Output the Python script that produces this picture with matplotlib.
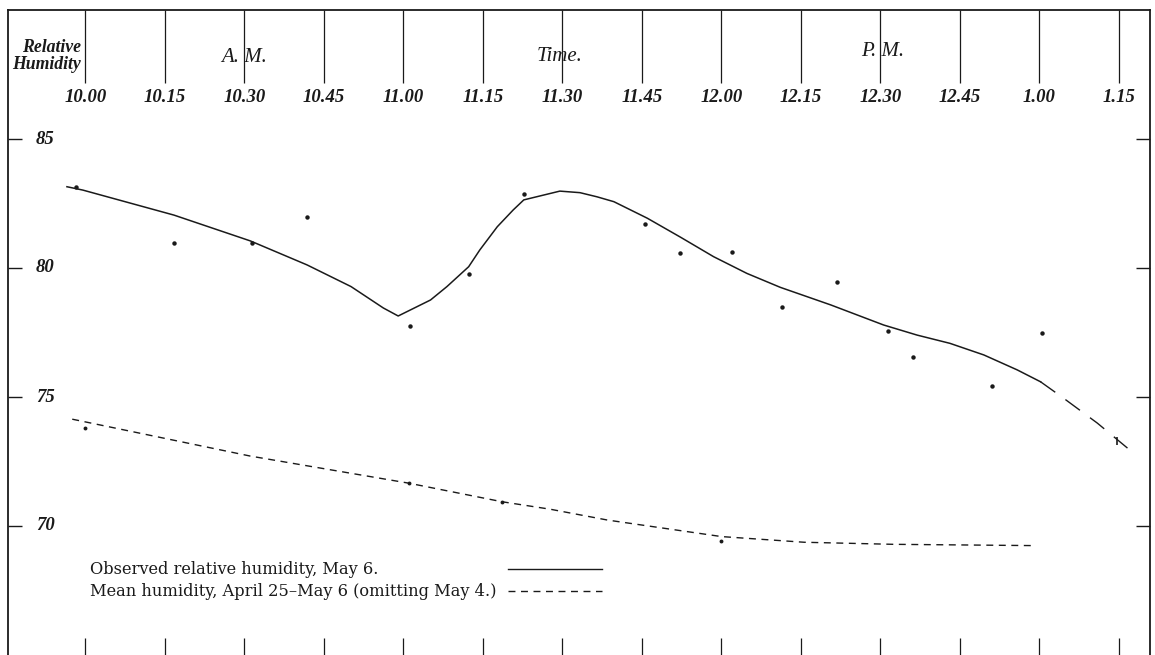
import matplotlib.pyplot as plt

# time axis in minutes after 10.00
tick_minutes = [0, 15, 30, 45, 60, 75, 90, 105, 120, 135, 150, 165, 180, 195]
tick_labels = ['10.00', '10.15', '10.30', '10.45', '11.00', '11.15', '11.30',
               '11.45', '12.00', '12.15', '12.30', '12.45', '1.00', '1.15']
humidity_ticks = [70, 75, 80, 85]

# observed relative humidity, May 6 (single readings)
obs_t = [-1.8, 16.7, 31.5, 41.8, 61.2, 72.3, 82.8, 105.5, 112.1, 122.0,
         131.5, 141.7, 151.5, 156.1, 171.1, 180.4]
obs_v = [83.13, 80.98, 80.98, 81.99, 77.76, 79.77, 82.86, 81.71, 80.59, 80.61,
         78.49, 79.47, 77.56, 76.55, 75.41, 77.48]

# hand-drawn smooth curve through the readings
curve_t = [-3.5, -0.5, 16.7, 31.1, 41.8, 50.1, 56.2, 59.0, 65.1, 68.2, 72.3,
           74.4, 77.7, 80.7, 82.7, 85.1, 89.5, 93.3, 96.5, 99.7, 106.0, 112.3,
           118.5, 124.8, 131.1, 140.6, 150.6, 156.9, 163.1, 169.5, 175.8, 180.2]
curve_v = [83.15, 83.02, 82.05, 81.05, 80.12, 79.28, 78.45, 78.14, 78.76, 79.28,
           80.05, 80.70, 81.60, 82.25, 82.64, 82.76, 82.98, 82.92, 82.76, 82.57,
           81.93, 81.19, 80.44, 79.79, 79.25, 78.57, 77.79, 77.40, 77.08, 76.63,
           76.05, 75.59]
tail_t = [180.2, 184.5, 190.9, 196.6]
tail_v = [75.59, 74.96, 73.99, 73.02]
end_mark_t = [194.6]
end_mark_v = [73.29]

# mean humidity, April 25 - May 6
mean_t = [-2.5, 31.1, 61.0, 78.6, 87.7, 98.5, 120.0, 135.6, 152.4, 179.0]
mean_v = [74.14, 72.71, 71.66, 70.94, 70.65, 70.23, 69.59, 69.37, 69.29, 69.24]
mean_pt_t = [-0.1, 61.0, 78.6, 120.0]
mean_pt_v = [73.81, 71.66, 70.94, 69.42]

ink = '#1a1a1a'
serif = ['Liberation Serif', 'DejaVu Serif']

fig = plt.figure(figsize=(11.55, 6.55), dpi=100)
ax = fig.add_axes([8 / 1155, 0, 1142 / 1155, 645 / 655])
ax.set_xlim(-14.62, 200.85)
ax.set_ylim(65, 90)

for side in ['left', 'top', 'right']:
    ax.spines[side].set_linewidth(1.3)
    ax.spines[side].set_color(ink)
ax.spines['bottom'].set_visible(False)

ax.set_xticks(tick_minutes)
ax.set_xticklabels([])
ax.set_yticks(humidity_ticks)
ax.set_yticklabels([])
ax.tick_params(axis='x', bottom=True, top=False, direction='in', length=12,
               width=0.9, color=ink)
ax.tick_params(axis='y', left=True, right=True, direction='in', length=10,
               width=1.0, color=ink)

# time rulings at the head of the sheet
ax.vlines(tick_minutes, 87.17, 90, color=ink, lw=0.9)
for t, lab in zip(tick_minutes, tick_labels):
    ax.text(t, 86.62, lab, ha='center', va='center', fontsize=13.5,
            family=serif, style='italic', weight='bold', color=ink)
for v in humidity_ticks:
    ax.text(-7.6, v, str(v), ha='center', va='center', fontsize=13.5,
            family=serif, style='italic', weight='bold', color=ink)

ax.text(-0.9, 88.2, 'Relative\nHumidity', ha='right', va='center',
        fontsize=12.8, family=serif, style='italic', weight='bold',
        color=ink, linespacing=1.0)
ax.text(30, 88.15, 'A. M.', ha='center', va='center', fontsize=15,
        family=serif, style='italic', color=ink)
ax.text(89.5, 88.2, 'Time.', ha='center', va='center', fontsize=15,
        family=serif, style='italic', color=ink)
ax.text(150.5, 88.4, 'P. M.', ha='center', va='center', fontsize=15,
        family=serif, style='italic', color=ink)

# observed curve and readings
ax.plot(curve_t, curve_v, color=ink, lw=1.1)
ax.plot(tail_t, tail_v, color=ink, lw=1.0, dashes=(13, 9))
ax.plot(obs_t, obs_v, 'o', color=ink, ms=3.2, mec='none')
ax.plot(end_mark_t, end_mark_v, '|', color=ink, ms=6, mew=1.2)

# mean curve
ax.plot(mean_t, mean_v, color=ink, lw=1.0, dashes=(5, 4))
ax.plot(mean_pt_t, mean_pt_v, 'o', color=ink, ms=2.8, mec='none')

# key
rows = [('Observed relative humidity, May 6.', 'solid', 0.133),
        ('Mean humidity, April 25\u2013May 6 (omitting May 4.)', (0, (5, 4)), 0.099)]
for label, ls, yy in rows:
    ax.text(0.072, yy, label, transform=ax.transAxes, ha='left', va='center',
            fontsize=11.7, family=['DejaVu Serif'], color=ink)
    ax.plot([0.438, 0.520], [yy, yy], transform=ax.transAxes, color=ink,
            lw=1.0, linestyle=ls)

fig.savefig('out.png', dpi=100)
